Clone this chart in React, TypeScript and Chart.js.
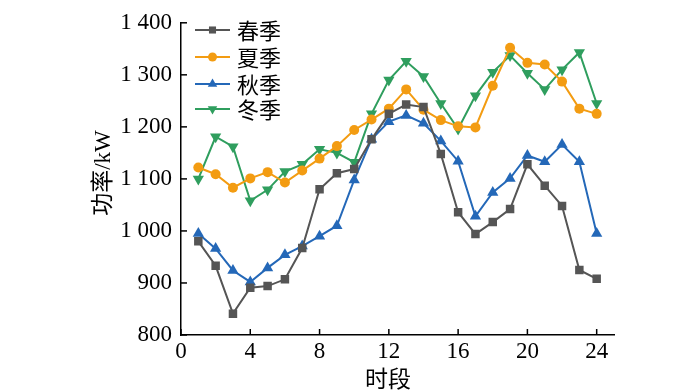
import React, { useEffect, useRef } from 'react';
import { Chart, registerables } from 'chart.js';

Chart.register(...registerables);

const hours = [1, 2, 3, 4, 5, 6, 7, 8, 9, 10, 11, 12, 13, 14, 15, 16, 17, 18, 19, 20, 21, 22, 23, 24];
const spring = [980, 933, 841, 891, 894, 907, 967, 1080, 1111, 1119, 1176, 1225, 1243, 1238, 1148, 1036, 994, 1017, 1042, 1128, 1087, 1048, 925, 908];
const summer = [1122, 1109, 1083, 1101, 1113, 1093, 1116, 1139, 1163, 1194, 1214, 1235, 1272, 1233, 1213, 1201, 1199, 1279, 1352, 1323, 1320, 1287, 1235, 1225];
const autumn = [995, 966, 924, 902, 929, 954, 971, 990, 1010, 1098, 1176, 1210, 1222, 1207, 1173, 1134, 1028, 1074, 1101, 1145, 1133, 1166, 1133, 995];
const winter = [1100, 1181, 1162, 1058, 1079, 1114, 1128, 1157, 1150, 1132, 1225, 1290, 1326, 1297, 1245, 1196, 1260, 1305, 1337, 1303, 1272, 1310, 1343, 1245];
const seriesNames = ['春季', '夏季', '秋季', '冬季'];
const seriesColors = ['#555555', '#F39C12', '#2468B8', '#2F9E5E'];
const yTicks = [800, 900, 1000, 1100, 1200, 1300, 1400];
const xTicks = [0, 4, 8, 12, 16, 20, 24];
const xTitle = '时段';
const yTitle = '功率/kW';

const markerStyles = ['rect', 'circle', 'triangleUp', 'triangleDown'];

function drawMarker(ctx: CanvasRenderingContext2D, style: string, x: number, y: number, r: number) {
  ctx.beginPath();
  if (style === 'rect') {
    const s = Math.SQRT1_2 * r;
    ctx.rect(x - s, y - s, 2 * s, 2 * s);
  } else if (style === 'circle') {
    ctx.arc(x, y, r, 0, Math.PI * 2);
  } else if (style === 'triangleUp') {
    const h = r * Math.sin(Math.PI / 3);
    ctx.moveTo(x, y - r);
    ctx.lineTo(x + h, y + r / 2);
    ctx.lineTo(x - h, y + r / 2);
    ctx.closePath();
  } else {
    const h = r * Math.sin(Math.PI / 3);
    ctx.moveTo(x, y + r);
    ctx.lineTo(x + h, y - r / 2);
    ctx.lineTo(x - h, y - r / 2);
    ctx.closePath();
  }
  ctx.fill();
}

function fmt(v: number): string {
  if (v >= 1000) {
    return `${Math.floor(v / 1000)} ${String(v % 1000).padStart(3, '0')}`;
  }
  return String(v);
}

const decor = {
  id: 'decor',
  beforeDatasetsDraw(chart: any) {
    const { ctx, scales, chartArea } = chart;
    const x = scales.x;
    const y = scales.y;
    ctx.save();
    ctx.strokeStyle = '#000';
    ctx.lineWidth = 1.5;
    xTicks.forEach((v) => {
      const px = x.getPixelForValue(v);
      ctx.beginPath();
      ctx.moveTo(px, chartArea.bottom);
      ctx.lineTo(px, chartArea.bottom - 6);
      ctx.stroke();
    });
    yTicks.forEach((v) => {
      const py = y.getPixelForValue(v);
      ctx.beginPath();
      ctx.moveTo(chartArea.left, py);
      ctx.lineTo(chartArea.left + 6, py);
      ctx.stroke();
    });
    ctx.restore();
  },
  afterDraw(chart: any) {
    const { ctx } = chart;
    ctx.save();
    // legend
    const ys = [30, 57, 84, 109];
    const radii = [5, 4.5, 5.5, 5.5];
    seriesNames.forEach((name, i) => {
      const yy = ys[i];
      ctx.strokeStyle = seriesColors[i];
      ctx.fillStyle = seriesColors[i];
      ctx.lineWidth = 2;
      ctx.beginPath();
      ctx.moveTo(195, yy);
      ctx.lineTo(230, yy);
      ctx.stroke();
      drawMarker(ctx, markerStyles[i], 212.5, yy, radii[i]);
      ctx.fillStyle = '#000';
      ctx.font = '22px "Noto Sans CJK SC"';
      ctx.textAlign = 'left';
      ctx.textBaseline = 'middle';
      ctx.fillText(name, 237, yy + 1);
    });
    // y axis title
    ctx.fillStyle = '#000';
    ctx.font = '23px "Liberation Serif", "Noto Sans CJK SC"';
    ctx.textAlign = 'center';
    ctx.textBaseline = 'middle';
    ctx.translate(104, 173);
    ctx.rotate(-Math.PI / 2);
    ctx.fillText(yTitle, 0, 0);
    ctx.restore();
    // x axis title
    ctx.save();
    ctx.fillStyle = '#000';
    ctx.font = '23px "Noto Sans CJK SC"';
    ctx.textAlign = 'center';
    ctx.textBaseline = 'middle';
    ctx.fillText(xTitle, 388, 378);
    ctx.restore();
  },
};

export default function App() {
  const ref = useRef<HTMLCanvasElement | null>(null);

  useEffect(() => {
    if (!ref.current) return;
    const seriesData = [spring, summer, autumn, winter];
    const pointStyles = ['rect', 'circle', 'triangle', 'triangle'];
    const rotations = [0, 0, 0, 180];
    const radii = [6, 5, 6.5, 6.5];
    const chart = new Chart(ref.current, {
      type: 'line',
      data: {
        datasets: seriesData.map((arr, i) => ({
          label: seriesNames[i],
          data: hours.map((h, j) => ({ x: h, y: arr[j] })),
          borderColor: seriesColors[i],
          backgroundColor: seriesColors[i],
          borderWidth: 2,
          pointStyle: pointStyles[i] as any,
          rotation: rotations[i],
          pointRadius: radii[i],
          pointBorderWidth: 0,
          pointBackgroundColor: seriesColors[i],
          tension: 0,
        })),
      },
      options: {
        animation: false,
        responsive: false,
        layout: { padding: { left: 0, right: 86, top: 12, bottom: 0 }, autoPadding: false },
        plugins: { legend: { display: false }, tooltip: { enabled: false } },
        scales: {
          x: {
            type: 'linear',
            min: 0,
            max: 25,
            grid: { display: false, drawTicks: false },
            border: { display: true, color: '#000', width: 1.5 },
            afterBuildTicks: (scale: any) => {
              scale.ticks = xTicks.map((v) => ({ value: v }));
            },
            afterFit: (scale: any) => {
              scale.height = 55;
            },
            ticks: {
              autoSkip: false,
              maxRotation: 0,
              padding: 3,
              color: '#000',
              font: { family: '"Liberation Serif"', size: 23 },
              callback: (v: any) => String(v),
            },
          },
          y: {
            type: 'linear',
            min: 800,
            max: 1400,
            grid: { display: false, drawTicks: false },
            border: { display: true, color: '#000', width: 1.5 },
            afterBuildTicks: (scale: any) => {
              scale.ticks = yTicks.map((v) => ({ value: v }));
            },
            afterFit: (scale: any) => {
              scale.width = 181;
            },
            ticks: {
              padding: 9,
              color: '#000',
              font: { family: '"Liberation Serif"', size: 23 },
              callback: (v: any) => fmt(Number(v)),
            },
          },
        },
      },
      plugins: [decor],
    });
    return () => chart.destroy();
  }, []);

  return (
    <div style={{ position: 'fixed', left: 0, top: 0, width: 700, height: 390, background: '#fff' }}>
      <canvas ref={ref} width={700} height={390} style={{ display: 'block' }} />
    </div>
  );
}
